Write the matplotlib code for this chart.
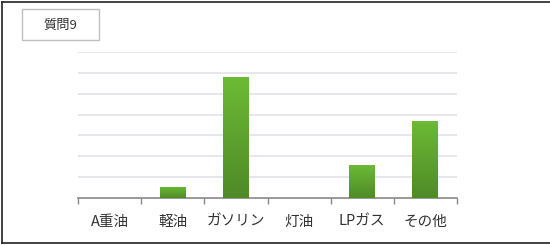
import numpy as np
import matplotlib
matplotlib.use('Agg')
import matplotlib.pyplot as plt
from matplotlib.colors import LinearSegmentedColormap
from matplotlib.patches import Rectangle

plt.rcParams['font.family'] = ['Noto Sans CJK JP', 'DejaVu Sans']

categories = ['A重油', '軽油', 'ガソリン', '灯油', 'LPガス', 'その他']
values = [0, 0.53, 5.82, 0, 1.6, 3.7]
title = '質問9'

W, H = 550, 245
fig = plt.figure(figsize=(W / 100, H / 100), dpi=100, facecolor='white')

# outer frame
fig.add_artist(plt.Line2D([2 / W, 2 / W], [2 / H, 1 - 2 / H], color='#222222', lw=1.2))
fig.add_artist(plt.Line2D([2 / W, 1], [1 - 2 / H, 1 - 2 / H], color='#222222', lw=1.2))
fig.add_artist(plt.Line2D([2 / W, 1], [2 / H, 2 / H], color='#222222', lw=1.2))

# title box
fig.add_artist(Rectangle((22 / W, 1 - 40 / H), 77 / W, 31 / H, transform=fig.transFigure,
                         facecolor='white', edgecolor='#bfbfbf', lw=1))
fig.text(60.5 / W, 1 - 25.5 / H, title, ha='center', va='center', fontsize=9.5, color='#333333')

ax = fig.add_axes([78 / W, 1 - 198 / H, 379 / W, 146 / H])
x = np.arange(len(categories))
bars = ax.bar(x, values, width=0.41, color='none', edgecolor='none', zorder=3)

cmap = LinearSegmentedColormap.from_list('g', ['#4f8a27', '#6cbb35'])
grad = np.linspace(0, 1, 256).reshape(-1, 1)
for b in bars:
    if b.get_height() <= 0:
        continue
    x0, w, h = b.get_x(), b.get_width(), b.get_height()
    im = ax.imshow(grad, cmap=cmap, origin='lower', aspect='auto',
                   extent=(x0, x0 + w, 0, h), zorder=3)
    im.set_clip_path(b)

ax.set_xlim(-0.5, len(categories) - 0.5)
ax.set_ylim(0, 7)
ax.set_yticks(np.arange(1, 8))
ax.yaxis.grid(True, color='#e3e3e8', lw=1.2)
ax.set_axisbelow(True)
ax.tick_params(axis='y', left=False, labelleft=False)

ax.set_xticks(x)
ax.set_xticklabels(categories, fontsize=10.5, color='#333333')
ax.tick_params(axis='x', length=0, pad=12)
ax.set_xticks(np.arange(-0.5, len(categories)), minor=True)
ax.tick_params(axis='x', which='minor', length=4, color='#888888', width=1)

for s in ['top', 'right', 'left']:
    ax.spines[s].set_visible(False)
ax.spines['bottom'].set_color('#888888')
ax.spines['bottom'].set_linewidth(1.2)

fig.savefig('out.png', dpi=100, facecolor='white')
